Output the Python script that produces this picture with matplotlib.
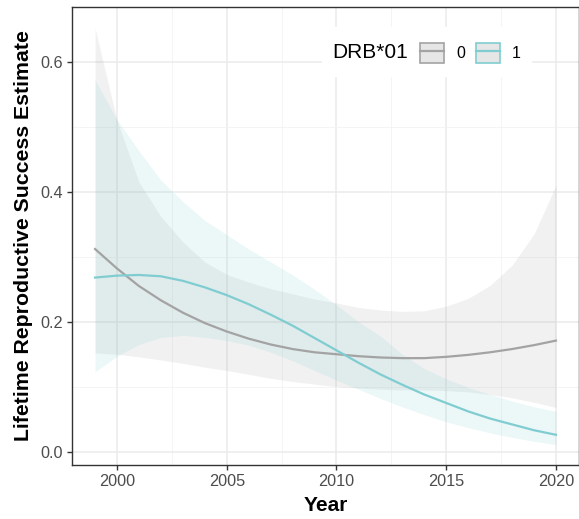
import numpy as np
import matplotlib
matplotlib.use("Agg")
import matplotlib.pyplot as plt
from matplotlib.patches import Patch, Rectangle
from matplotlib.lines import Line2D
from matplotlib.ticker import MultipleLocator

plt.rcParams["font.family"] = ["Liberation Sans", "DejaVu Sans"]

# smoothed fits, one value per year
years = np.arange(1999, 2021)

fit_0 = [0.312, 0.282, 0.255, 0.233, 0.214, 0.198, 0.185, 0.174, 0.165, 0.158, 0.153,
         0.150, 0.147, 0.145, 0.144, 0.144, 0.146, 0.149, 0.153, 0.158, 0.164, 0.171]
upper_0 = [0.652, 0.510, 0.415, 0.362, 0.323, 0.292, 0.273, 0.261, 0.251, 0.243, 0.235,
           0.229, 0.222, 0.218, 0.216, 0.217, 0.224, 0.236, 0.256, 0.287, 0.335, 0.410]
lower_0 = [0.152, 0.150, 0.146, 0.141, 0.136, 0.130, 0.125, 0.119, 0.113, 0.108, 0.104,
           0.100, 0.098, 0.096, 0.095, 0.095, 0.094, 0.092, 0.088, 0.083, 0.076, 0.068]

fit_1 = [0.268, 0.271, 0.272, 0.270, 0.263, 0.253, 0.241, 0.227, 0.211, 0.194, 0.175,
         0.156, 0.137, 0.119, 0.103, 0.088, 0.075, 0.062, 0.051, 0.042, 0.033, 0.026]
upper_1 = [0.572, 0.511, 0.463, 0.418, 0.385, 0.356, 0.334, 0.312, 0.292, 0.272, 0.250,
           0.226, 0.200, 0.178, 0.150, 0.128, 0.112, 0.099, 0.088, 0.078, 0.069, 0.062]
lower_1 = [0.123, 0.147, 0.165, 0.176, 0.179, 0.176, 0.171, 0.164, 0.153, 0.140, 0.125,
           0.110, 0.096, 0.082, 0.069, 0.057, 0.046, 0.037, 0.029, 0.022, 0.016, 0.011]

groups = ["0", "1"]
line_colors = {"0": "#A3A3A3", "1": "#7FCDD1"}
fill_styles = {"0": ("#999999", 0.13), "1": ("#80CDD2", 0.15)}
series = {
    "0": (fit_0, lower_0, upper_0),
    "1": (fit_1, lower_1, upper_1),
}

W, H = 579, 519
PX0, PX1, PY0, PY1 = 72, 579, 7, 465   # panel edges in pixels

fig = plt.figure(figsize=(W / 100, H / 100), dpi=100)
ax = fig.add_axes([PX0 / W, 1 - PY1 / H, (PX1 - PX0) / W, (PY1 - PY0) / H])


def to_ax(px, py):
    return (px - PX0) / (PX1 - PX0), (PY1 - py) / (PY1 - PY0)


for g in groups:
    fit, lo, hi = series[g]
    fc, fa = fill_styles[g]
    ax.fill_between(years, lo, hi, color=fc, alpha=fa, linewidth=0, zorder=2)
    ax.plot(years, fit, color=line_colors[g], linewidth=1.6, zorder=3)

ax.set_xlim(1997.95, 2021.05)
ax.set_ylim(-0.0205, 0.6845)
ax.set_xticks([2000, 2005, 2010, 2015, 2020])
ax.set_yticks([0.0, 0.2, 0.4, 0.6])
ax.set_yticklabels(["0.0", "0.2", "0.4", "0.6"])
ax.xaxis.set_minor_locator(MultipleLocator(2.5))
ax.yaxis.set_minor_locator(MultipleLocator(0.1))

ax.set_axisbelow(True)
ax.grid(which="major", color="#EBEBEB", linewidth=1.1)
ax.grid(which="minor", color="#F2F2F2", linewidth=0.6)
ax.tick_params(which="major", length=3.5, width=1.0, color="#333333",
               labelcolor="#4D4D4D", labelsize=11.7, pad=3)
ax.tick_params(which="minor", length=0)
for sp in ax.spines.values():
    sp.set_color("#333333")
    sp.set_linewidth(1.0)

ax.set_xlabel("Year", fontsize=15, fontweight="bold", labelpad=5)
ax.set_ylabel("Lifetime Reproductive Success Estimate", fontsize=15.3,
              fontweight="bold", labelpad=5)

# legend: white background, title on the left, keys in one row
bx, by = to_ax(322, 77)
ax.add_patch(Rectangle((bx, by), 210 / (PX1 - PX0), 50 / (PY1 - PY0),
                       transform=ax.transAxes, facecolor="white",
                       edgecolor="none", zorder=1.5))
tx, ty = to_ax(332, 53)
ax.text(tx, ty, "DRB*01", transform=ax.transAxes,
        fontsize=15, va="center", ha="left", zorder=4)

handles = [(Patch(facecolor="#E6E6E6", edgecolor=line_colors[g], linewidth=1.2),
            Line2D([], [], color=line_colors[g], linewidth=1.6)) for g in groups]
lx, ly = to_ax(420, 53)
ax.legend(handles, groups, loc="center left", bbox_to_anchor=(lx, ly),
          ncol=2, frameon=False, fontsize=11.5, handlelength=1.5, handleheight=1.5,
          handletextpad=0.75, columnspacing=0.7, borderaxespad=0, borderpad=0)

fig.savefig("out.png", dpi=100)
